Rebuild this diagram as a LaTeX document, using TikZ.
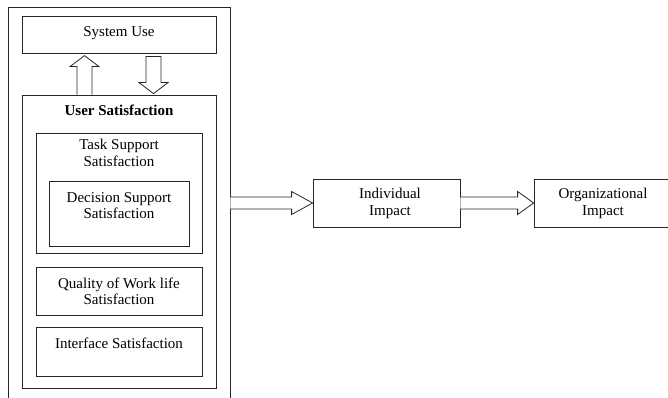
\documentclass[tikz,border=0pt]{standalone}
\usepackage{fontspec}
\setmainfont{Liberation Serif}
\usetikzlibrary{calc}
\begin{document}
\begin{tikzpicture}[x=1pt,y=-1pt,
  line/.style={line width=0.8pt, draw=black!85},
  box/.style={line, draw, rectangle, inner sep=0pt},
  txt/.style={align=center, inner sep=0pt, font=\fontsize{15}{16.5}\selectfont},
  blockarrow/.style={line, fill=white, line join=miter}]
\useasboundingbox (0,0) rectangle (668,398);
% outer frame (runs past the bottom edge)
\node[box, minimum width=222pt, minimum height=400pt] (outer) at (119,207) {};
% system use
\node[box, minimum width=194pt, minimum height=37pt] (use) at (119,34.5) {};
\node[txt] (usetxt) at (119,33) {System Use};
% user satisfaction
\node[box, minimum width=194pt, minimum height=293pt] (sat) at (119,241.5) {};
\node[txt, font=\fontsize{15}{16.5}\selectfont\bfseries] (sattxt) at (119,110) {User Satisfaction};
% task support
\node[box, minimum width=166pt, minimum height=120pt] (task) at (119,193) {};
\node[txt] (tasktxt) at (119,153) {Task Support\\Satisfaction};
% decision support
\node[box, minimum width=140pt, minimum height=65pt] (dec) at (119,213.5) {};
\node[txt] (dectxt) at (119,205.5) {Decision Support\\Satisfaction};
% quality of work life
\node[box, minimum width=166pt, minimum height=48pt] (qual) at (119,291) {};
\node[txt] (qualtxt) at (119,291.5) {Quality of Work life\\Satisfaction};
% interface
\node[box, minimum width=166pt, minimum height=49pt] (intf) at (119,351.5) {};
\node[txt] (intftxt) at (119,343.5) {Interface Satisfaction};
% impacts
\node[box, minimum width=147pt, minimum height=48pt] (ind) at (386.5,203) {};
\node[txt] (indtxt) at (390,203.5) {Individual\\Impact};
\node[box, minimum width=150pt, minimum height=48pt] (org) at (609,203) {};
\node[txt] (orgtxt) at (603,203.5) {Organizational\\Impact};
% up arrow (user satisfaction -> system use)
\coordinate (upb) at (84.5,0 |- sat.north);
\draw[blockarrow] ($(upb)+(-7.5,0)$) -- ($(upb)+(-7.5,-28)$) -- ($(upb)+(-14.5,-28)$)
  -- ($(upb)+(0,-39)$) -- ($(upb)+(14.5,-28)$) -- ($(upb)+(7.5,-28)$) -- ($(upb)+(7.5,0)$);
% down arrow (system use -> user satisfaction)
\coordinate (dnt) at (153.5,0 |- sat.north);
\draw[blockarrow] ($(dnt)+(-7.5,-38)$) -- ($(dnt)+(-7.5,-12)$) -- ($(dnt)+(-14.5,-12)$)
  -- ($(dnt)+(0,-1)$) -- ($(dnt)+(14.5,-12)$) -- ($(dnt)+(7.5,-12)$) -- ($(dnt)+(7.5,-38)$) -- cycle;
% arrow outer -> individual impact
\coordinate (a1) at (outer.east |- ind.west);
\draw[blockarrow] ($(a1)+(0,-6)$) -- ($(ind.west)+(-21,-6)$) -- ($(ind.west)+(-21,-11.5)$)
  -- (ind.west) -- ($(ind.west)+(-21,11.5)$) -- ($(ind.west)+(-21,6)$) -- ($(a1)+(0,6)$);
% arrow individual -> organizational impact
\draw[blockarrow] ($(ind.east)+(0,-6)$) -- ($(org.west)+(-16,-6)$) -- ($(org.west)+(-16,-11.5)$)
  -- (org.west) -- ($(org.west)+(-16,11.5)$) -- ($(org.west)+(-16,6)$) -- ($(ind.east)+(0,6)$);
\end{tikzpicture}
\end{document}
